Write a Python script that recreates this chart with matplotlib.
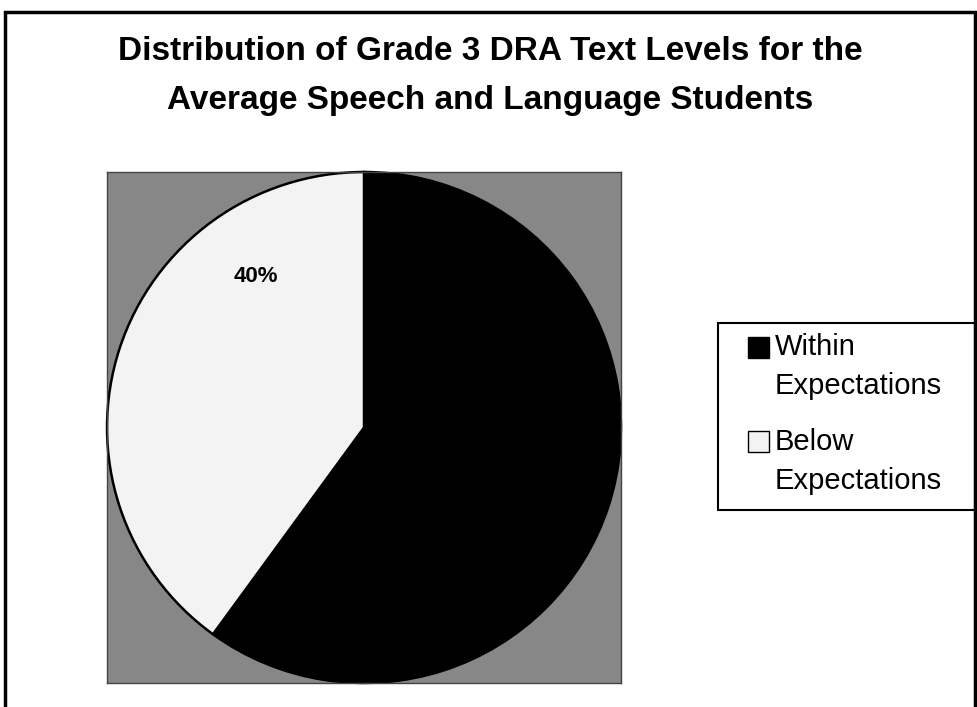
import matplotlib.pyplot as plt
from matplotlib.patches import Rectangle, Patch
from matplotlib.legend_handler import HandlerPatch

plt.rcParams['font.family'] = ['Liberation Sans', 'DejaVu Sans']

# Grade 3 DRA results for the average speech and language group
categories = ["Within\nExpectations", "Below\nExpectations"]
shares = [60, 40]
slice_colors = ["#000000", "#f3f3f3"]

W, H = 978, 707
fig = plt.figure(figsize=(W / 100, H / 100), dpi=100)
fig.patch.set_facecolor("white")

# outer chart frame (runs off the bottom of the image)
fig.patches.append(Rectangle((5 / W, -0.02), 970 / W, 1.02 - 12 / H,
                             transform=fig.transFigure, fill=False,
                             edgecolor="black", linewidth=2.5))

fig.text(490 / W, 1 - 52 / H, "Distribution of Grade 3 DRA Text Levels for the",
         ha="center", va="center", fontsize=24, fontweight="bold")
fig.text(490 / W, 1 - 100 / H, "Average Speech and Language Students",
         ha="center", va="center", fontsize=24, fontweight="bold")

# plot area: gray square that the pie fills
ax = fig.add_axes([107 / W, (H - 683) / H, 514 / W, 511 / H])
ax.set_facecolor("#878787")
for s in ax.spines.values():
    s.set_color("#444444")
    s.set_linewidth(1)

wedges, texts, pcts = ax.pie(
    shares, colors=slice_colors, startangle=90, counterclock=False,
    autopct="%d%%", radius=1.0, frame=True,
    wedgeprops=dict(edgecolor="black", linewidth=1.8),
    textprops=dict(fontsize=16, fontweight="bold", color="black"),
)
ax.set_xlim(-1.0, 1.0)
ax.set_ylim(-1.0, 1.0)
ax.set_aspect("auto")
ax.set_xticks([])
ax.set_yticks([])
# place the 40% label up in the upper left of its slice
pcts[1].set_position((-0.42, 0.59))


# legend swatch sits beside the first line of a two-line label
def top_swatch(legend, orig_handle, xdescent, ydescent, width, height, fontsize):
    return Rectangle((-xdescent, -ydescent + 14.5), width, height)


handles = [Patch(facecolor=c, edgecolor="black", linewidth=1) for c in slice_colors]
leg = fig.legend(handles, categories, loc="upper left",
                 bbox_to_anchor=(748 / W, 1 - 333 / H),
                 fontsize=21, frameon=False,
                 handlelength=0.72, handleheight=0.72,
                 handletextpad=0.2, labelspacing=0.95, borderpad=0,
                 borderaxespad=0,
                 handler_map={Patch: HandlerPatch(patch_func=top_swatch)})
for t in leg.get_texts():
    t.set_linespacing(1.5)

# legend box
fig.patches.append(Rectangle((718 / W, (H - 510) / H), 257 / W, 187 / H,
                             transform=fig.transFigure, fill=False,
                             edgecolor="black", linewidth=1.5))

fig.savefig("out.png", dpi=100)
